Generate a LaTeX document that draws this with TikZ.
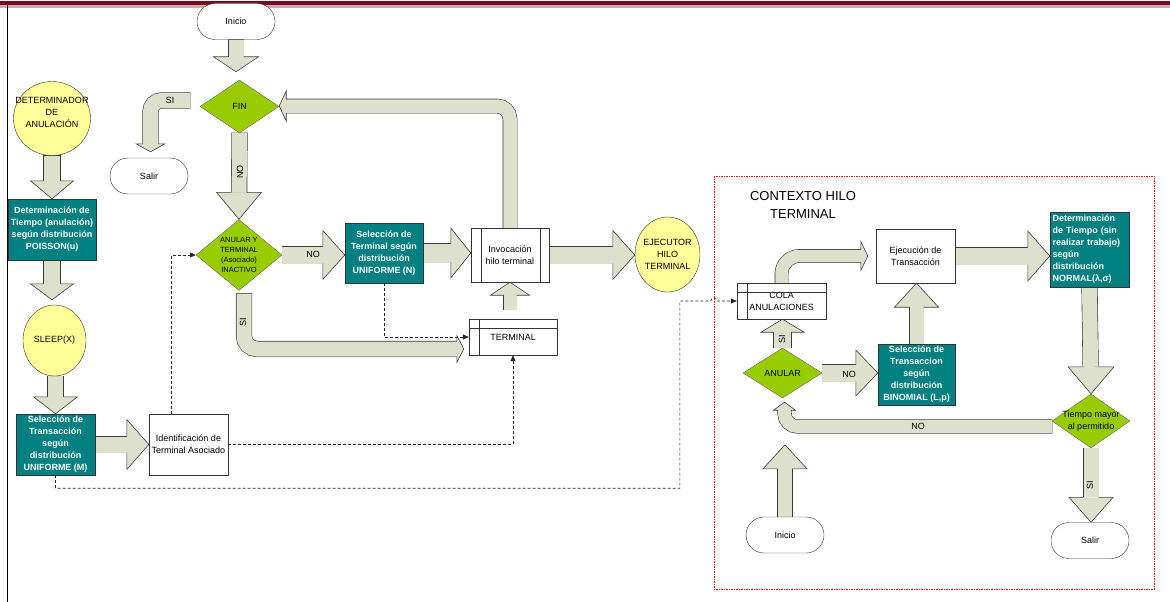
\documentclass[tikz,border=0pt]{standalone}
\usepackage{fontspec}
\setmainfont{Liberation Sans}
\usetikzlibrary{shapes.geometric,shapes.misc,arrows.meta,calc,backgrounds}

\definecolor{tealbox}{RGB}{0,128,128}
\definecolor{greendec}{RGB}{153,204,0}
\definecolor{yellowbub}{RGB}{255,255,153}
\definecolor{arrowfill}{RGB}{221,224,204}
\definecolor{arrowedge}{RGB}{60,60,60}
\definecolor{topband}{RGB}{120,10,30}

\tikzset{
  shaft/.style={line width=#1, draw=arrowfill,
    preaction={draw=arrowedge, line width=#1+1.2, shorten <=-0.6pt}},
  bhead/.style={fill=arrowfill, draw=arrowedge, line width=0.6pt, line join=miter},
}

\newcommand\bhead[5]{%
  \filldraw[bhead, shift={#1}, rotate=#2] (-#3,#5) -- (-#3,#4) -- (0,0) -- (-#3,-#4) -- (-#3,-#5);}
\newcommand\barrow[6]{%
  \draw[shaft=#4, shorten >=#5pt] #1 -- #2;
  \bhead{#2}{#3}{#5}{#6}{#4/2}}

\begin{document}
\fontsize{9}{12}\selectfont
\begin{tikzpicture}[x=1pt, y=1pt,
    term/.style={rounded rectangle, draw=black!80, fill=white, minimum width=78pt, minimum height=36pt, inner sep=0pt},
    distbox/.style={rectangle, draw=black!80, fill=tealbox, text=white, font=\bfseries, align=center, inner sep=0pt},
    plainbox/.style={rectangle, draw=black!80, fill=white, align=center, inner sep=0pt},
    bubble/.style={ellipse, draw=black!80, fill=yellowbub, inner sep=0pt},
    decide/.style={diamond, draw=black!60, fill=greendec, inner sep=0pt},
    btxt/.style={align=center, inner sep=0pt},
    dtxt/.style={align=center, inner sep=0pt, font=\fontsize{7.5}{10}\selectfont},
    link/.style={densely dashed, line width=0.6pt, draw=black!85, -{Triangle[length=6pt,width=5pt]}},
    ctxline/.style={draw=red, dash pattern=on 1.5pt off 1pt, line width=0.7pt}]
  \useasboundingbox (0,0) rectangle (1170,-602);
  \fill[topband!35] (0,-5) rectangle (1170,-8);
  \fill[topband] (0,-1.5) rectangle (1170,-5);
  \draw[line width=0.8pt] (7,-5) -- (7,-602);

  \node[bubble, minimum width=77pt, minimum height=74pt, label={[btxt,yshift=6pt]center:DETERMINADOR\\DE\\ANULACIÓN}] (detA) at (52,-118.5) {};
  \node[distbox, minimum width=88pt, minimum height=61pt] (poisson) at (52,-229.5) {Determinación de\\Tiempo (anulación)\\según distribución\\POISSON(u)};
  \node[bubble, minimum width=63pt, minimum height=71pt] (sleep) at (54.5,-340.5) {SLEEP(X)};
  \node[distbox, minimum width=79pt, minimum height=61pt] (tranM) at (55.5,-444.5) {Selección de\\Transacción\\según\\distribución\\UNIFORME (M)};
  \node[plainbox, minimum width=79pt, minimum height=61pt] (ident) at (188.5,-444.5) {Identificación de\\Terminal Asociado};

  \node[term] (inicioA) at (236,-21.5) {Inicio};
  \node[term] (salirA) at (149,-176) {Salir};
  \node[decide, minimum width=79pt, minimum height=53pt] (fin) at (239.5,-106.5) {FIN};
  \node[decide, minimum width=86pt, minimum height=71pt, label={[dtxt]center:ANULAR Y\\TERMINAL\\(Asociado)\\INACTIVO}] (anulT) at (239,-255) {};
  \node[distbox, minimum width=78pt, minimum height=60pt] (selN) at (384,-253) {Selección de\\Terminal según\\distribución\\UNIFORME (N)};
  \node[plainbox, minimum width=78pt, minimum height=54pt] (invoc) at (510,-255) {Invocación\\hilo terminal};
  \draw[black!80] ([xshift=10pt]invoc.north west) -- ([xshift=10pt]invoc.south west)
    ([xshift=-9pt]invoc.north east) -- ([xshift=-9pt]invoc.south east);
  \node[plainbox, minimum width=88pt, minimum height=36pt] (terminal) at (513,-337) {TERMINAL};
  \draw[black!80] ([xshift=10pt]terminal.north west) -- ([xshift=10pt]terminal.south west)
    ([yshift=-9pt]terminal.north west) -- ([yshift=-9pt]terminal.north east);
  \node[bubble, minimum width=65pt, minimum height=75pt, label={[btxt]center:EJECUTOR\\HILO\\TERMINAL}] (ejecutor) at (667.5,-254.5) {};

  \draw[ctxline] (714,-176) rectangle (1154,-589);
  \node[font=\fontsize{13}{18}\selectfont, align=center] (ctxtitle) at (803,-205) {CONTEXTO HILO\\TERMINAL};
  \node[plainbox, minimum width=89pt, minimum height=36pt] (cola) at (781.5,-301) {COLA\\ANULACIONES};
  \draw[black!80] ([xshift=10pt]cola.north west) -- ([xshift=10pt]cola.south west)
    ([yshift=-9pt]cola.north west) -- ([yshift=-9pt]cola.north east);
  \node[plainbox, minimum width=79pt, minimum height=54pt] (ejecT) at (915.5,-256) {Ejecución de\\Transacción};
  \node[distbox, align=left, text width=74pt, minimum width=79pt, minimum height=75pt] (normal) at (1089.5,-249.5) {Determinación\\de Tiempo (sin\\realizar trabajo)\\según\\distribución\\NORMAL(λ,σ)};
  \node[decide, minimum width=79pt, minimum height=50pt] (anular) at (782.5,-373) {ANULAR};
  \node[distbox, minimum width=77pt, minimum height=61pt] (binom) at (916.5,-374.5) {Selección de\\Transaccion\\según\\distribución\\BINOMIAL (L,p)};
  \node[decide, minimum width=78pt, minimum height=54pt, label={[btxt]center:Tiempo mayor\\al permitido}] (tiempo) at (1091,-421) {};
  \node[term] (inicioB) at (785,-535) {Inicio};
  \node[term] (salirB) at (1090,-540.5) {Salir};

  \begin{scope}[on background layer]
    \barrow{(detA.south)}{(poisson.north)}{-90}{16}{18}{21.5}
    \barrow{(poisson.south)}{($(poisson.south |- sleep.north)+(0,5)$)}{-90}{16}{16}{21.5}
    \barrow{(sleep.south -| tranM.north)}{(tranM.north)}{-90}{15}{17}{22}
    \barrow{(tranM.east)}{(ident.west)}{0}{16}{22}{25}

    \barrow{(inicioA.south)}{($(inicioA.south |- fin.north)+(0,8)$)}{-90}{15}{15}{22.5}
    \barrow{(fin.south)}{(anulT.north)}{-90}{15}{27}{22.5}
    \barrow{(anulT.east)}{(selN.west |- anulT.east)}{0}{17}{22}{24.5}
    \barrow{(selN.east)}{(selN.east -| invoc.west)}{0}{19}{20}{25}
    \barrow{(invoc.east)}{(invoc.east -| ejecutor.west)}{0}{17}{22}{24.5}
    \barrow{($(invoc.south |- terminal.north)+(0,9)$)}{(invoc.south)}{90}{13}{13}{19.5}

    \draw[shaft=15, rounded corners=11] ([xshift=-10pt,yshift=6pt]fin.west) -| ($(salirA.north)+(1.5,14)$);
    \bhead{($(salirA.north)+(1.5,6)$)}{-90}{8}{14.5}{7.5}
    \draw[shaft=13.5, rounded corners=13] (invoc.north) |- ($(fin.east)+(7,0.5)$);
    \bhead{($(fin.east)+(0,0.5)$)}{180}{7}{15}{6.75}
    \draw[shaft=15, rounded corners=13] ($(anulT.south)+(5,-3)$) |- ($(terminal.west)+(-12,-12)$);
    \bhead{($(terminal.west)+(-5,-12)$)}{0}{7}{13.5}{7.5}

    \draw[shaft=12.5, rounded corners=18] (cola.north) |- ($(ejecT.west)+(-15,0)$);
    \bhead{($(ejecT.west)+(-8,0)$)}{0}{7}{14.5}{6.25}
    \barrow{(ejecT.east)}{(ejecT.east -| normal.west)}{0}{17}{22}{25}
    \barrow{(normal.south)}{(tiempo.north)}{-90}{15}{27}{23}
    \barrow{(tiempo.south)}{(salirB.north -| tiempo.south)}{-90}{15}{25}{22}
    \draw[shaft=13, rounded corners=13] ($(tiempo.west)+(0,-5.5)$) -| ($(anular.south)+(2,-12)$);
    \bhead{($(anular.south)+(2,-4)$)}{90}{8}{11}{6.5}
    \barrow{(anular.north)}{(cola.south -| anular.north)}{90}{17}{13}{21.5}
    \barrow{(anular.east)}{(binom.west |- anular.east)}{0}{17}{22}{23}
    \barrow{(binom.north)}{(ejecT.south -| binom.north)}{90}{14}{24}{22}
    \barrow{(inicioB.north)}{($(inicioB.north)+(0,72)$)}{90}{14}{24}{22}
  \end{scope}

  \node (siA) at (170,-100) {SI};
  \node[rotate=90] (noA) at (240,-172) {NO};
  \node (noB) at (313,-254) {NO};
  \node[rotate=90] (siB) at (243,-322) {SI};
  \node (noC) at (849,-374) {NO};
  \node[rotate=90] (siC) at (782,-339) {SI};
  \node (noD) at (918,-426) {NO};
  \node[rotate=90] (siD) at (1090,-485) {SI};

  \draw[link] ([xshift=-17pt]ident.north) |- (anulT.west);
  \draw[link] (selN.south) |- (terminal.west);
  \draw[link] (ident.east) -| (terminal.south);
  \draw[link] (tranM.south) -- ++(0,-13) -| ($(cola.west)+(-57,0)$) -- ($(cola.west)+(-26,0)$)
    arc[start angle=180, end angle=0, radius=3] -- (cola.west);
\end{tikzpicture}
\end{document}
